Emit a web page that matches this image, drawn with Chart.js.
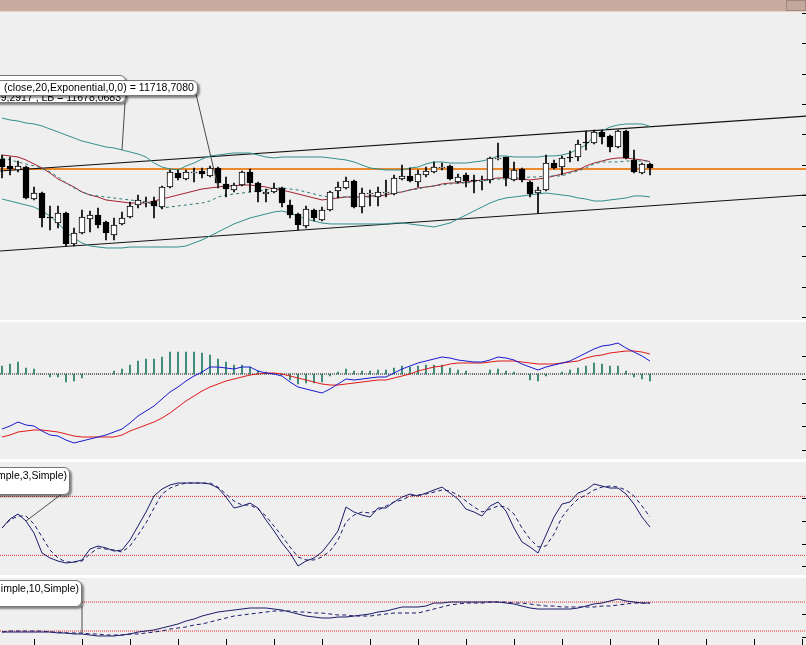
<!DOCTYPE html>
<html>
<head>
<meta charset="utf-8">
<script src="https://cdn.jsdelivr.net/npm/chart.js@4.4.1/dist/chart.umd.min.js"></script>
<style>
  html, body { margin: 0; padding: 0; background: #ffffff; overflow: hidden; }
  body { width: 806px; height: 645px; position: relative; }
  canvas { position: absolute; left: 0; background: #efefef; }
  .topbar { position: absolute; left: 0; top: 0; width: 806px; height: 11px; background: #c8aca0; border-bottom: 1px solid #e2d2cb; }
  .topbar .btn { position: absolute; right: 0; top: 0; width: 18px; height: 9px; border: 1px solid #a08880; background: #c4a89c; }
  .box { position: absolute; background: #ffffff; border: 1px solid #777; border-radius: 6px;
         box-shadow: 2px 2px 2px rgba(0,0,0,0.45); font: 10.5px "Liberation Sans", Arial, sans-serif;
         color: #000; white-space: nowrap; overflow: hidden; text-align: right; line-height: 13px; }
  .box span { position: absolute; right: 3px; }
</style>
</head>
<body>
<div class="topbar"><div class="btn"></div></div>
<canvas id="priceChart" width="806" height="308" style="top:12px"></canvas>
<canvas id="macdChart" width="806" height="137" style="top:322px"></canvas>
<canvas id="stochChart" width="806" height="113" style="top:462px"></canvas>
<canvas id="slowChart" width="806" height="67" style="top:578px"></canvas>

<div class="box" style="left:-20px; top:75px; width:144px; height:26px;"><span style="top:15px; right:4px">9,2917 , LB = 11678,0683</span></div>
<div class="box" style="left:-20px; top:80px; width:216px; height:14px;"><span style="top:0px; letter-spacing:0.05px">(close,20,Exponential,0,0) = 11718,7080</span></div>
<div class="box" style="left:-20px; top:467px; width:88px; height:26px;"><span style="top:1px; right:2px">imple,3,Simple)</span></div>
<div class="box" style="left:-20px; top:580px; width:100px; height:25px;"><span style="top:1px; right:2px">imple,10,Simple)</span></div>

<script>
/*------------------------------------
* Data (one entry per bar, index 0..81)
------------------------------------ */
var opens = [11721.7,11713.7,11709.1,11712.5,11675.7,11682.6,11655.0,11648.1,11659.6,11624.0,
  11636.6,11652.7,11657.3,11649.3,11634.3,11647.0,11655.0,11668.8,11671.1,11673.4,
  11666.5,11689.5,11705.6,11698.7,11705.6,11707.9,11702.2,11711.4,11693.0,11686.1,
  11691.8,11706.8,11694.1,11681.5,11683.8,11688.4,11668.8,11658.5,11644.7,11663.1,
  11651.6,11663.1,11684.9,11688.4,11696.4,11666.5,11681.5,11678.0,11682.6,11681.5,
  11698.7,11702.2,11695.3,11703.3,11706.8,11711.4,11713.7,11695.3,11703.3,11697.6,
  11696.4,11697.6,11721.7,11724.0,11697.6,11710.2,11695.3,11682.6,11686.1,11717.1,
  11712.5,11724.0,11724.0,11741.3,11740.1,11752.8,11748.2,11735.5,11753.9,11720.6,
  11705.6,11716.0];
var highs = [11726.3,11724.0,11719.4,11713.7,11689.5,11683.8,11667.7,11667.7,11660.8,11642.4,
  11663.1,11661.9,11665.4,11650.4,11653.9,11660.8,11672.3,11680.3,11678.0,11678.0,
  11690.7,11709.1,11709.1,11709.1,11711.4,11711.4,11713.7,11712.5,11701.0,11694.1,
  11707.9,11710.2,11695.3,11687.2,11694.1,11689.5,11674.6,11659.6,11667.7,11664.2,
  11666.5,11684.9,11695.3,11701.0,11697.6,11688.4,11686.1,11689.5,11697.6,11703.3,
  11714.8,11711.4,11709.1,11712.5,11718.3,11717.1,11714.8,11704.5,11705.6,11703.3,
  11702.2,11724.0,11740.1,11724.0,11718.3,11711.4,11696.4,11689.5,11726.3,11720.6,
  11725.2,11730.9,11743.6,11753.9,11755.1,11755.1,11749.3,11755.1,11755.1,11732.1,
  11717.1,11717.1];
var lows = [11699.9,11703.3,11706.8,11675.7,11674.6,11643.5,11640.1,11642.4,11621.7,11621.7,
  11635.5,11637.8,11642.4,11628.6,11628.6,11645.8,11653.9,11665.4,11666.5,11653.9,
  11664.2,11688.4,11697.6,11697.6,11695.3,11699.9,11701.0,11688.4,11678.0,11683.8,
  11690.7,11683.8,11672.3,11672.3,11682.6,11666.5,11653.9,11640.1,11642.4,11650.4,
  11650.4,11661.9,11676.9,11687.2,11665.4,11659.6,11667.7,11667.7,11678.0,11680.3,
  11697.6,11695.3,11689.5,11701.0,11705.6,11709.1,11697.6,11694.1,11689.5,11682.6,
  11686.1,11694.1,11720.6,11690.7,11696.4,11695.3,11678.0,11659.6,11684.9,11710.2,
  11703.3,11718.3,11719.4,11732.1,11739.0,11739.0,11729.8,11734.4,11721.7,11705.6,
  11704.5,11703.3];
var closes = [11712.5,11710.2,11713.7,11676.9,11682.6,11653.9,11653.9,11659.6,11624.0,11636.6,
  11655.0,11657.3,11645.8,11636.6,11645.8,11653.9,11667.7,11674.6,11672.3,11667.7,
  11689.5,11706.8,11699.9,11706.8,11706.8,11704.5,11711.4,11694.1,11687.2,11691.8,
  11706.8,11694.1,11683.8,11683.8,11688.4,11671.1,11657.3,11645.8,11664.2,11653.9,
  11663.1,11683.8,11689.5,11696.4,11666.5,11682.6,11682.6,11683.8,11683.8,11699.9,
  11702.2,11696.4,11704.5,11707.9,11712.5,11712.5,11698.7,11701.0,11696.4,11696.4,
  11697.6,11722.9,11722.9,11699.9,11709.1,11697.6,11681.5,11686.1,11717.1,11711.4,
  11722.9,11722.9,11739.0,11740.1,11752.8,11747.0,11735.5,11753.9,11722.9,11706.8,
  11716.0,11711.4];

// Bollinger(20) upper / lower, dashed middle, EMA(20)
var bbUpper = [11768.8,11766.6,11765.4,11763.1,11762.0,11759.7,11756.2,11752.8,11749.3,11745.9,
  11742.4,11740.1,11737.8,11735.5,11734.4,11732.1,11729.8,11727.5,11724.0,11717.1,
  11712.5,11710.2,11709.1,11713.7,11717.1,11721.7,11725.2,11726.3,11727.5,11728.6,
  11728.6,11728.6,11726.3,11724.0,11722.9,11724.0,11724.0,11724.0,11724.0,11724.0,
  11724.0,11722.9,11721.7,11720.6,11718.3,11714.8,11711.4,11710.2,11709.1,11709.1,
  11709.1,11711.4,11712.5,11716.0,11718.3,11718.3,11717.1,11717.1,11717.1,11718.3,
  11719.4,11721.7,11725.2,11725.2,11724.0,11724.0,11724.0,11724.0,11725.2,11725.2,
  11726.3,11728.6,11733.2,11737.8,11748.2,11753.9,11758.5,11760.8,11762.0,11762.0,
  11762.0,11759.3];
var bbLower = [11675.7,11673.4,11671.1,11668.8,11666.5,11661.9,11656.2,11648.1,11637.8,11630.9,
  11625.1,11621.7,11620.5,11619.4,11619.4,11619.4,11620.5,11620.5,11620.5,11620.5,
  11620.5,11620.5,11620.5,11621.7,11625.1,11628.6,11633.2,11637.8,11642.4,11647.0,
  11650.4,11653.9,11656.2,11658.5,11660.8,11661.9,11659.6,11656.2,11652.7,11650.4,
  11648.1,11647.0,11647.0,11647.0,11647.0,11647.0,11647.0,11647.0,11647.0,11648.1,
  11648.1,11647.0,11645.8,11644.7,11643.5,11645.8,11648.1,11652.7,11657.3,11661.9,
  11666.5,11671.1,11674.6,11676.9,11678.0,11679.2,11680.3,11681.5,11682.6,11681.5,
  11680.3,11679.2,11676.9,11675.7,11673.4,11673.4,11674.6,11675.7,11676.9,11679.2,
  11679.2,11678.1];
var bbMiddle = [11722.9,11720.6,11718.3,11716.0,11713.7,11711.4,11706.8,11701.0,11694.1,11688.4,
  11683.8,11680.3,11679.2,11678.0,11676.9,11675.7,11674.6,11673.4,11672.3,11668.8,
  11665.4,11666.5,11667.7,11668.8,11670.0,11671.1,11673.4,11678.0,11680.3,11681.5,
  11682.6,11683.8,11684.9,11686.1,11688.4,11688.4,11687.2,11686.1,11683.8,11681.5,
  11679.2,11678.0,11678.0,11678.0,11678.0,11678.0,11678.0,11680.3,11681.5,11682.6,
  11683.8,11686.1,11687.2,11689.5,11690.7,11691.8,11693.0,11694.1,11694.1,11695.3,
  11696.4,11697.6,11698.7,11698.7,11699.9,11699.9,11701.0,11701.0,11702.2,11702.2,
  11702.2,11705.6,11707.9,11711.4,11716.0,11718.3,11718.3,11718.3,11719.4,11719.4,
  11719.4,11719.4];
var ema20 = [11726.3,11725.2,11724.0,11720.6,11716.0,11711.4,11705.6,11698.7,11694.1,11689.5,
  11683.8,11680.3,11678.0,11674.6,11673.4,11672.3,11671.1,11671.1,11671.1,11673.4,
  11675.7,11678.0,11680.3,11682.6,11684.9,11687.2,11688.4,11689.5,11690.7,11690.7,
  11691.8,11691.8,11690.7,11689.5,11687.2,11686.1,11683.8,11681.5,11679.2,11676.9,
  11674.6,11675.7,11676.9,11678.0,11678.0,11678.0,11679.2,11679.2,11680.3,11682.6,
  11683.8,11686.1,11688.4,11689.5,11690.7,11693.0,11694.1,11694.1,11695.3,11696.4,
  11697.6,11698.7,11699.9,11699.9,11698.7,11698.7,11697.6,11698.7,11699.9,11702.2,
  11704.5,11706.8,11709.1,11713.7,11717.1,11719.4,11721.7,11722.9,11722.9,11721.7,
  11720.6,11718.7];

// trend lines (value at left edge, value at right edge) and horizontal level
var trendUpper = [11707.9, 11771.1];
var trendLower = [11615.9, 11680.3];
var levelLine = 11710.2;
var priceTicks = [11890,11855,11820,11785,11750,11715,11680,11645,11610,11575,11540];

// MACD
var macdLine = [-55,-52,-48,-51,-52,-57,-61,-62,-66,-69,-67,-65,-63,-61,-58,-55,-49,-42,-37,-32,
  -25,-18,-13,-7,-2,2,7,7,6,5,7,7,3,1,0,-2,-8,-13,-15,-17,
  -19,-15,-10,-5,-6,-5,-4,-3,-3,1,5,8,11,13,15,17,16,14,13,12,
  12,14,17,16,14,10,7,4,7,9,11,13,17,21,25,28,29,31,26,22,18,13];
var signalLine = [-63,-61,-58,-57,-56,-56,-57,-58,-60,-62,-63,-63,-63,-63,-63,-61,-57,-54,-51,-48,
  -44,-39,-33,-27,-22,-17,-13,-10,-7,-5,-3,-1,0,1,1,0,-2,-4,-6,-8,
  -10,-11,-11,-10,-9,-8,-7,-6,-6,-4,-2,0,3,5,7,8,10,11,11,11,
  11,12,13,13,13,12,11,10,10,10,11,12,13,16,18,19,21,22,23,23,22,20];
var macdHist = [8,10,12,6,5,0,-3,-3,-8,-7,-4,0,0,0,3,5,9,13,15,15,
  17,22,22,22,22,21,19,15,12,9,9,7,3,2,0,-1,-6,-10,-9,-9,
  -8,-2,2,5,3,3,3,4,4,6,8,7,8,9,9,9,6,4,3,0,
  0,4,5,3,2,0,-6,-7,-2,0,2,4,6,8,11,10,8,8,3,-3,-5,-7];
var macdTicks = [18,-5,-29,-52,-76];

// Stochastic %K / %D
var stochK = [47.8,57.0,62.1,54.9,42.7,22.4,17.3,14.2,12.2,13.2,15.3,26.4,29.5,27.5,24.4,25.4,35.6,49.8,64.1,80.4,
  87.5,91.6,93.6,93.6,93.6,93.6,92.6,88.5,79.3,68.2,70.2,73.2,68.2,56.0,44.8,32.6,22.4,9.2,14.2,17.3,
  23.4,33.6,44.8,69.2,64.1,61.0,59.0,68.2,68.2,74.3,79.3,82.4,80.4,83.4,86.5,89.5,83.4,77.3,67.1,64.1,
  60.0,70.2,74.3,65.1,47.8,33.6,28.5,22.4,40.7,59.0,72.2,74.3,83.4,86.5,92.6,90.5,88.5,88.5,82.4,72.2,
  59.0,48.8];
var stochD = [47.8,56.0,60.0,60.0,51.9,38.7,25.4,17.3,13.2,13.2,14.2,21.4,27.5,26.4,25.4,23.4,29.5,40.7,52.9,68.2,
  82.4,88.5,91.6,93.6,93.6,93.6,93.6,89.5,82.4,75.3,71.2,71.2,67.1,60.0,49.8,39.7,28.5,18.3,15.3,15.3,
  18.3,24.4,35.6,53.9,61.0,64.1,63.1,66.1,70.2,74.3,76.3,80.4,81.4,82.4,84.4,86.5,85.5,81.4,75.3,69.2,
  64.1,67.1,70.2,69.2,62.1,47.8,36.6,28.5,29.5,41.7,59.0,69.2,77.3,81.4,86.5,89.5,90.5,89.5,86.5,80.4,
  70.2,59.0];
var stochTicks = [78,55,32,9];

// slow oscillator (10 period)
var slowK = [17.9,17.9,17.9,17.9,17.9,17.9,17.9,15.9,15.9,13.8,13.8,11.7,9.7,9.7,9.7,11.7,13.8,17.9,20.0,22.1,
  26.2,30.3,34.5,40.7,44.8,51.0,55.2,59.3,61.4,63.4,65.5,67.6,67.6,67.6,65.5,63.4,59.3,55.2,51.0,49.0,
  46.9,46.9,49.0,49.0,51.0,53.1,55.2,59.3,61.4,65.5,69.7,69.7,69.7,71.7,77.9,77.9,80.0,80.0,80.0,80.0,
  80.0,80.0,80.0,77.9,75.9,71.7,67.6,65.5,65.5,65.5,65.5,65.5,67.6,71.7,75.9,77.9,82.1,86.2,82.1,80.0,
  77.9,77.9];
var slowD = [17.9,20.0,20.0,20.0,20.0,20.0,17.9,17.9,15.9,15.9,15.9,13.8,13.8,11.7,11.7,11.7,13.8,13.8,15.9,17.9,
  20.0,24.1,26.2,28.3,32.4,34.5,38.6,42.8,46.9,51.0,53.1,55.2,57.2,59.3,61.4,61.4,61.4,59.3,59.3,57.2,
  57.2,55.2,53.1,53.1,51.0,51.0,51.0,53.1,55.2,57.2,57.2,57.2,57.2,61.4,65.5,69.7,73.8,75.9,77.9,77.9,
  77.9,80.0,80.0,80.0,77.9,77.9,75.9,73.8,71.7,71.7,69.7,69.7,69.7,69.7,69.7,71.7,71.7,73.8,75.9,77.9,
  77.9,77.9];
var slowTicks = [55,8];

var oscLevels = [80, 20];
var dateTicks = [4,10,16,22,28,34,40,46,52,58,64,70,76,82,88,94,100];

/*------------------------------------
* Helpers
------------------------------------ */
var X_MIN = -0.25, X_MAX = 100.5;

function pts(arr) {
  return arr.map(function (v, i) { return { x: i, y: v }; });
}
function flat(v) {
  return [{ x: X_MIN, y: v }, { x: X_MAX, y: v }];
}
function line(data, color, extra) {
  var ds = {
    type: "line", data: data, borderColor: color, borderWidth: 1,
    pointRadius: 0, tension: 0, fill: false, order: 5
  };
  for (var k in extra) ds[k] = extra[k];
  return ds;
}

// small tick marks and call-out pointers
var marks = {
  id: "marks",
  afterDatasetsDraw: function (chart, args, opts) {
    var ctx = chart.ctx, area = chart.chartArea;
    var xs = chart.scales.x, ys = chart.scales.y;
    ctx.save();
    ctx.lineWidth = 1;
    ctx.strokeStyle = "#000";
    (opts.yTicks || []).forEach(function (v) {
      var py = Math.round(ys.getPixelForValue(v)) + 0.5;
      ctx.beginPath(); ctx.moveTo(area.right - 4, py); ctx.lineTo(area.right, py); ctx.stroke();
    });
    (opts.xTicks || []).forEach(function (v) {
      var px = Math.round(xs.getPixelForValue(v)) + 0.5;
      ctx.beginPath(); ctx.moveTo(px, area.bottom - 6); ctx.lineTo(px, area.bottom); ctx.stroke();
    });
    ctx.strokeStyle = "#4a4a4a";
    (opts.pointers || []).forEach(function (p) {
      ctx.beginPath();
      ctx.moveTo(p.from[0], p.from[1]);
      ctx.lineTo(xs.getPixelForValue(p.x), ys.getPixelForValue(p.y));
      ctx.stroke();
    });
    ctx.restore();
  }
};

function makeChart(id, datasets, yMin, yMax, markOpts) {
  return new Chart(document.getElementById(id), {
    type: "line",
    data: { datasets: datasets },
    options: {
      responsive: false,
      animation: false,
      devicePixelRatio: 1,
      layout: { padding: 0 },
      plugins: { legend: { display: false }, tooltip: { enabled: false }, marks: markOpts },
      scales: {
        x: { type: "linear", min: X_MIN, max: X_MAX, offset: false, display: false },
        y: { type: "linear", min: yMin, max: yMax, display: false }
      }
    },
    plugins: [marks]
  });
}

/*------------------------------------
* Price panel
------------------------------------ */
var TEAL = "#2f8f8c";
var wicks = lows.map(function (l, i) { return { x: i, y: [l, highs[i]] }; });
var bodies = opens.map(function (o, i) { return { x: i, y: [o, closes[i]] }; });
var bodyColors = opens.map(function (o, i) { return closes[i] < o ? "#000000" : "#ffffff"; });

makeChart("priceChart", [
  line([{ x: X_MIN, y: trendUpper[0] }, { x: X_MAX, y: trendUpper[1] }], "#111", { borderWidth: 1.2, order: 9 }),
  line([{ x: X_MIN, y: trendLower[0] }, { x: X_MAX, y: trendLower[1] }], "#111", { borderWidth: 1.2, order: 9 }),
  line(flat(levelLine), "#ee8a2e", { borderWidth: 2, order: 9 }),
  line(pts(bbUpper), TEAL),
  line(pts(bbLower), TEAL),
  line(pts(bbMiddle), "#2a7a78", { borderDash: [3, 3] }),
  line(pts(ema20), "#a3202c"),
  { type: "bar", data: wicks, backgroundColor: "#000", barThickness: 1, grouped: false, order: 2 },
  { type: "bar", data: bodies, backgroundColor: bodyColors, borderColor: "#000", borderWidth: 1,
    borderSkipped: false, barThickness: 6, grouped: false, order: 1 }
], 11536.55, 11890.75, {
  yTicks: priceTicks,
  pointers: [
    { from: [125, 91], x: 15, y: bbUpper[15] },
    { from: [196, 82], x: 27, y: ema20[27] }
  ]
});

/*------------------------------------
* MACD panel
------------------------------------ */
makeChart("macdChart", [
  line(flat(0), "#000", { borderDash: [1, 1], order: 9 }),
  { type: "bar", data: pts(macdHist), backgroundColor: "#1f7a66", barThickness: 1, grouped: false, order: 6 },
  line(pts(signalLine), "#e01818"),
  line(pts(macdLine), "#1818d0", { order: 4 })
], -85, 52, { yTicks: macdTicks });

/*------------------------------------
* Stochastic panels
------------------------------------ */
makeChart("stochChart", [
  line(flat(oscLevels[0]), "#e02828", { borderDash: [1, 1], order: 9 }),
  line(flat(oscLevels[1]), "#e02828", { borderDash: [1, 1], order: 9 }),
  line(pts(stochD), "#1a1a6a", { borderDash: [4, 3] }),
  line(pts(stochK), "#1a1a6a")
], 0, 115, {
  yTicks: stochTicks,
  pointers: [{ from: [63, 31], x: 3, y: stochK[3] }]
});

makeChart("slowChart", [
  line(flat(oscLevels[0]), "#e02828", { borderDash: [1, 1], order: 9 }),
  line(flat(oscLevels[1]), "#e02828", { borderDash: [1, 1], order: 9 }),
  line(pts(slowD), "#1a1a6a", { borderDash: [4, 3] }),
  line(pts(slowK), "#1a1a6a")
], -8.97, 129.7, {
  yTicks: slowTicks,
  xTicks: dateTicks,
  pointers: [{ from: [82, 28], x: 10, y: slowK[10] }]
});
</script>
</body>
</html>
